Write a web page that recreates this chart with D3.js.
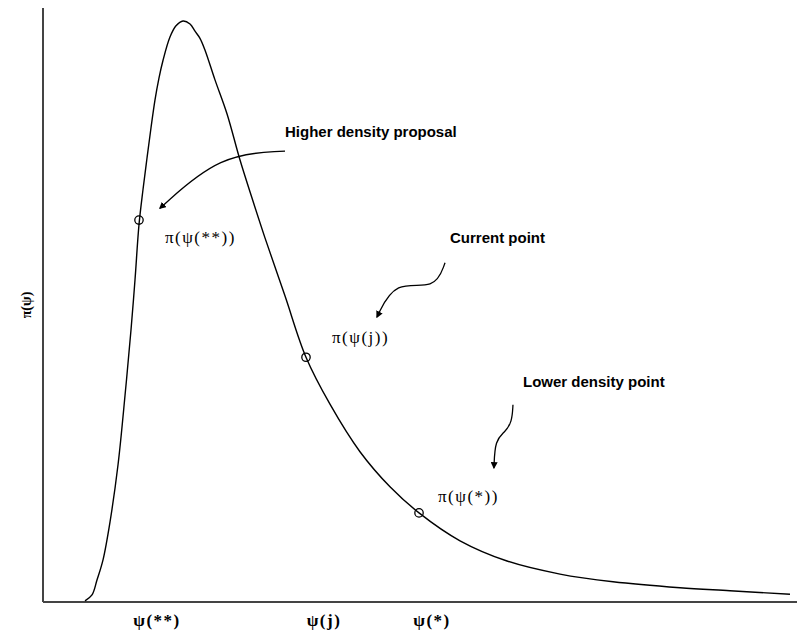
<!DOCTYPE html>
<html>
<head>
<meta charset="utf-8">
<script src="https://cdn.jsdelivr.net/npm/d3@7"></script>
<style>
  body { margin: 0; background: #fff; }
  svg { display: block; }
</style>
</head>
<body>
<svg id="chart" width="798" height="630"></svg>
<script>
// density curve (psi, pi(psi))
const psiVals = [0.557, 0.650, 0.716, 0.796, 0.889, 0.995, 1.088, 1.167, 1.220, 1.273,
  1.326, 1.379, 1.432, 1.485, 1.538, 1.592, 1.684, 1.764, 1.857, 1.950,
  2.016, 2.082, 2.149, 2.281, 2.440, 2.613, 2.772, 2.944, 3.210, 3.488,
  3.806, 4.204, 4.602, 4.987, 5.531, 6.154, 6.857, 7.560, 8.448, 9.111, 9.907];
const densVals = [0.002, 0.012, 0.037, 0.071, 0.135, 0.231, 0.348, 0.458, 0.542, 0.635,
  0.694, 0.747, 0.798, 0.845, 0.882, 0.912, 0.951, 0.970, 0.978, 0.973,
  0.961, 0.949, 0.929, 0.879, 0.822, 0.744, 0.680, 0.613, 0.515, 0.412,
  0.333, 0.253, 0.194, 0.150, 0.103, 0.069, 0.047, 0.034, 0.024, 0.019, 0.013];

// marked points on the curve
const pointX = [1.273, 3.488, 4.987];
const pointY = [0.643, 0.412, 0.150];
const pointLabels = ["π(ψ(**))", "π(ψ(j))", "π(ψ(*))"];
const pointLabelPos = [[1.618, 0.604], [3.833, 0.436], [5.239, 0.168]];

// x axis labels
const tickLabels = ["ψ(**)", "ψ(j)", "ψ(*)"];
const tickPos = [1.512, 3.727, 5.159];

// notes with their arrows
const noteTexts = ["Higher density proposal", "Current point", "Lower density point"];
const notePos = [[3.210, 0.783], [5.398, 0.604], [6.366, 0.362]];
const arrowPts = [
  [[3.210, 0.759], [2.347, 0.754], [1.552, 0.663]],
  [[5.332, 0.571], [5.199, 0.525], [4.668, 0.542], [4.430, 0.480]],
  [[6.233, 0.332], [6.220, 0.303], [6.127, 0.286], [5.995, 0.273], [5.981, 0.226]]
];

const svg = d3.select("#chart");
const x = d3.scaleLinear().domain([0, 10]).range([43, 797]);
const y = d3.scaleLinear().domain([0, 1]).range([602, 8]);

svg.append("defs").append("marker")
  .attr("id", "head")
  .attr("viewBox", "0 0 10 10")
  .attr("refX", 8).attr("refY", 5)
  .attr("markerWidth", 7).attr("markerHeight", 7)
  .attr("markerUnits", "userSpaceOnUse")
  .attr("orient", "auto")
  .append("path")
  .attr("d", "M0,0 L10,5 L0,10 z")
  .attr("fill", "#000");

//axes: plain lines, no ticks
svg.append("line")
  .attr("x1", x(0)).attr("x2", x(0))
  .attr("y1", y(0)).attr("y2", y(1))
  .attr("stroke", "#444").attr("stroke-width", 2);
svg.append("line")
  .attr("x1", x(0)).attr("x2", x(10))
  .attr("y1", y(0)).attr("y2", y(0))
  .attr("stroke", "#444").attr("stroke-width", 2);

const line = d3.line()
  .x((d, i) => x(psiVals[i]))
  .y((d, i) => y(densVals[i]))
  .curve(d3.curveCatmullRom.alpha(0.5));

svg.append("path")
  .attr("d", line(psiVals))
  .attr("fill", "none")
  .attr("stroke", "#000")
  .attr("stroke-width", 1.4);

svg.selectAll("circle.pt")
  .data(pointX)
  .enter()
  .append("circle")
  .attr("class", "pt")
  .attr("cx", d => x(d))
  .attr("cy", (d, i) => y(pointY[i]))
  .attr("r", 4.2)
  .attr("fill", "none")
  .attr("stroke", "#000")
  .attr("stroke-width", 1.3);

svg.selectAll("text.plab")
  .data(pointLabels)
  .enter()
  .append("text")
  .attr("class", "plab")
  .attr("x", (d, i) => x(pointLabelPos[i][0]))
  .attr("y", (d, i) => y(pointLabelPos[i][1]))
  .attr("font-family", "Liberation Serif, DejaVu Serif, serif")
  .attr("font-size", 17)
  .attr("letter-spacing", 1.5)
  .text(d => d);

svg.selectAll("text.tick")
  .data(tickLabels)
  .enter()
  .append("text")
  .attr("class", "tick")
  .attr("x", (d, i) => x(tickPos[i]))
  .attr("y", 626)
  .attr("text-anchor", "middle")
  .attr("font-family", "Liberation Serif, DejaVu Serif, serif")
  .attr("font-weight", "bold")
  .attr("font-size", 17)
  .attr("letter-spacing", 1.5)
  .text(d => d);

svg.append("text")
  .attr("transform", `translate(31,${y(0.5)}) rotate(-90)`)
  .attr("text-anchor", "middle")
  .attr("font-family", "Liberation Serif, DejaVu Serif, serif")
  .attr("font-weight", "bold")
  .attr("font-size", 14)
  .text("π(ψ)");

svg.selectAll("text.note")
  .data(noteTexts)
  .enter()
  .append("text")
  .attr("class", "note")
  .attr("x", (d, i) => x(notePos[i][0]))
  .attr("y", (d, i) => y(notePos[i][1]))
  .attr("font-family", "Liberation Sans, Arial, sans-serif")
  .attr("font-weight", "bold")
  .attr("font-size", 15)
  .text(d => d);

const arrowLine = d3.line()
  .x(d => x(d[0]))
  .y(d => y(d[1]))
  .curve(d3.curveBasis);

svg.selectAll("path.arrow")
  .data(arrowPts)
  .enter()
  .append("path")
  .attr("class", "arrow")
  .attr("d", d => arrowLine(d))
  .attr("fill", "none")
  .attr("stroke", "#000")
  .attr("stroke-width", 1.3)
  .attr("marker-end", "url(#head)");
</script>
</body>
</html>
